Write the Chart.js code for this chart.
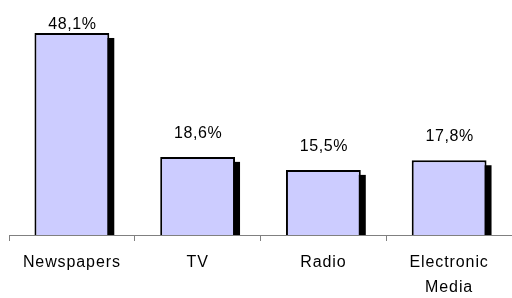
<!DOCTYPE html>
<html>
<head>
<meta charset="utf-8">
<script src="https://cdn.jsdelivr.net/npm/chart.js@4/dist/chart.umd.min.js"></script>
<style>
  html, body { margin: 0; padding: 0; background: #fff; overflow: hidden; }
  #chart { display: block; }
</style>
</head>
<body>
<canvas id="chart" width="512" height="298"></canvas>
<script>
// data
const categories = ['Newspapers', 'TV', 'Radio', ['Electronic', 'Media']];
const shares = [48.1, 18.6, 15.5, 17.8];
const shareLabels = ['48,1%', '18,6%', '15,5%', '17,8%'];

const fontFam = '"Liberation Sans", Arial, Helvetica, sans-serif';

// text in the original is spaced out a bit, canvas letterSpacing for that
const spacing = {
    id: 'spacing',
    beforeDraw(chart) {
        chart.ctx.letterSpacing = '0.9px';
    }
};

// black drop shadow behind each bar + value text above
const barExtras = {
    id: 'barExtras',
    beforeDatasetsDraw(chart) {
        const ctx = chart.ctx;
        const meta = chart.getDatasetMeta(0);
        ctx.save();
        ctx.fillStyle = '#000';
        meta.data.forEach(function (bar) {
            const w = bar.width;
            const dx = 5, dy = 5;
            ctx.fillRect(bar.x - w / 2 + dx, bar.y + dy, w, bar.base - bar.y - dy);
        });
        ctx.restore();
    },
    afterDatasetsDraw(chart) {
        const ctx = chart.ctx;
        const meta = chart.getDatasetMeta(0);
        ctx.save();
        ctx.fillStyle = '#000';
        ctx.font = '16px ' + fontFam;
        ctx.letterSpacing = '0.6px';
        ctx.textAlign = 'center';
        ctx.textBaseline = 'alphabetic';
        meta.data.forEach(function (bar, i) {
            // label ~19px over the bar, the tall one is pushed down under the top
            let y = Math.max(bar.y - 19, 29);
            ctx.fillText(shareLabels[i], bar.x + 0.5, y);
        });
        ctx.restore();
    }
};

new Chart(document.getElementById('chart'), {
    type: 'bar',
    data: {
        labels: categories,
        datasets: [{
            data: shares,
            backgroundColor: '#ccccff',
            borderColor: '#000',
            borderWidth: 2,
            barPercentage: 0.595,
            categoryPercentage: 1
        }]
    },
    options: {
        responsive: false,
        devicePixelRatio: 1,
        animation: false,
        layout: { padding: { left: 9, right: -1, top: 4, bottom: 0 } },
        plugins: {
            legend: { display: false },
            tooltip: { enabled: false }
        },
        scales: {
            x: {
                offset: true,
                grid: {
                    offset: true,
                    drawOnChartArea: false,
                    drawTicks: true,
                    tickLength: 6,
                    color: '#808080'
                },
                border: { color: '#808080', width: 1 },
                ticks: {
                    color: '#000',
                    padding: 9.5,
                    maxRotation: 0,
                    autoSkip: false,
                    font: { family: fontFam, size: 16, lineHeight: 1.54 }
                },
                afterFit(scale) { scale.height = 63; }
            },
            y: {
                display: false,
                min: 0,
                max: 55
            }
        }
    },
    plugins: [spacing, barExtras]
});
</script>
</body>
</html>
